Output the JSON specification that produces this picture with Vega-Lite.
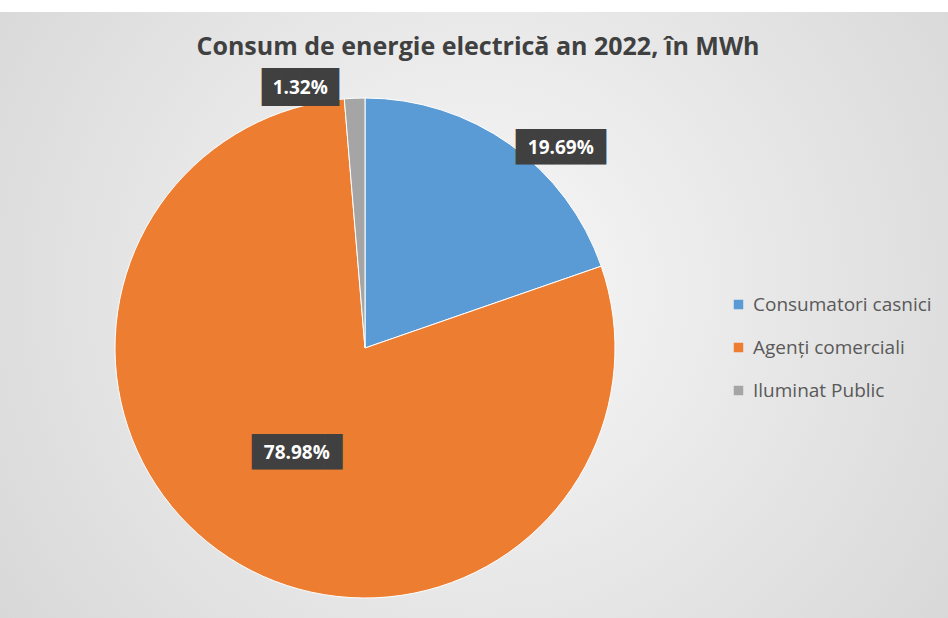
{
  "$schema": "https://vega.github.io/schema/vega-lite/v6.json",
  "width": 1166,
  "height": 672,
  "autosize": {"type": "none"},
  "padding": {"left": -218, "top": 12, "right": 0, "bottom": 0},
  "background": "#ffffff",
  "view": {
    "stroke": null,
    "fill": {
      "gradient": "radial",
      "x1": 0.597, "y1": 0.451, "r1": 0,
      "x2": 0.597, "y2": 0.451, "r2": 0.62,
      "stops": [
        {"offset": 0, "color": "#f8f8f8"},
        {"offset": 1, "color": "#d0d0d0"}
      ]
    }
  },
  "title": {
    "text": "Consum de energie electrică an 2022, în MWh",
    "anchor": "middle",
    "dx": 113,
    "offset": -68,
    "baseline": "alphabetic",
    "font": "Open Sans",
    "fontSize": 25,
    "fontWeight": "bold",
    "color": "#404040"
  },
  "data": {
    "values": [
      {"categorie": "Consumatori casnici", "procent": 19.69, "eticheta": "19.69%", "ordine": 1},
      {"categorie": "Agenți comerciali", "procent": 78.98, "eticheta": "78.98%", "ordine": 2},
      {"categorie": "Iluminat Public", "procent": 1.32, "eticheta": "1.32%", "ordine": 3}
    ]
  },
  "encoding": {
    "theta": {"field": "procent", "type": "quantitative", "stack": true},
    "order": {"field": "ordine", "type": "quantitative"}
  },
  "layer": [
    {
      "mark": {"type": "arc", "radius": 250, "stroke": "#ffffff", "strokeWidth": 1},
      "encoding": {
        "color": {
          "field": "categorie",
          "type": "nominal",
          "sort": ["Consumatori casnici", "Agenți comerciali", "Iluminat Public"],
          "scale": {
            "domain": ["Consumatori casnici", "Agenți comerciali", "Iluminat Public"],
            "range": ["#5b9bd5", "#ed7d31", "#a5a5a5"]
          },
          "legend": {
            "orient": "none",
            "legendX": 947,
            "legendY": 283,
            "title": null,
            "symbolType": "square",
            "symbolSize": 90,
            "symbolStrokeWidth": 0,
            "labelFont": "Open Sans",
            "labelFontSize": 19,
            "labelColor": "#595959",
            "labelLimit": 400,
            "rowPadding": 23,
            "labelOffset": 5,
            "padding": 0
          }
        }
      }
    },
    {
      "mark": {
        "type": "text",
        "font": "DejaVu Sans Mono",
        "color": "#404040",
        "align": "center",
        "baseline": "middle",
        "radius": {"expr": "datum.ordine === 2 ? 125 : 260"},
        "dx": {"expr": "datum.ordine === 1 ? 45 : (datum.ordine === 3 ? -54 : 0)"},
        "dy": {"expr": "datum.ordine === 1 ? 12 : 0"}
      },
      "encoding": {
        "text": {"condition": {"test": "datum.ordine === 3", "value": "████"}, "value": "█████"},
        "size": {"condition": {"test": "datum.ordine === 3", "value": 32}, "value": 30}
      }
    },
    {
      "mark": {
        "type": "text",
        "font": "Open Sans",
        "fontWeight": "bold",
        "fontSize": 19,
        "color": "#ffffff",
        "align": "center",
        "baseline": "middle",
        "radius": {"expr": "datum.ordine === 2 ? 125 : 260"},
        "dx": {"expr": "datum.ordine === 1 ? 45 : (datum.ordine === 3 ? -54 : 0)"},
        "dy": {"expr": "datum.ordine === 1 ? 12 : 0"}
      },
      "encoding": {
        "text": {"field": "eticheta", "type": "nominal"}
      }
    }
  ]
}
